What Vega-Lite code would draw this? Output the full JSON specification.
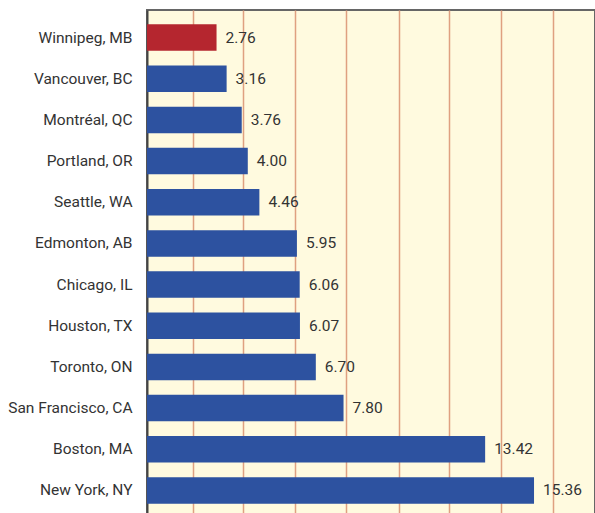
{
  "$schema": "https://vega.github.io/schema/vega-lite/v6.json",
  "width": 448,
  "height": 508,
  "autosize": "none",
  "padding": {"left": 147, "top": 10, "right": 0, "bottom": 0},
  "background": "white",
  "config": {
    "view": {"fill": "#fffadf", "stroke": "#666666", "strokeWidth": 2},
    "font": "Roboto"
  },
  "data": {
    "values": [
      {"city": "Winnipeg, MB", "value": 2.76, "highlight": "yes"},
      {"city": "Vancouver, BC", "value": 3.16, "highlight": "no"},
      {"city": "Montréal, QC", "value": 3.76, "highlight": "no"},
      {"city": "Portland, OR", "value": 4.00, "highlight": "no"},
      {"city": "Seattle, WA", "value": 4.46, "highlight": "no"},
      {"city": "Edmonton, AB", "value": 5.95, "highlight": "no"},
      {"city": "Chicago, IL", "value": 6.06, "highlight": "no"},
      {"city": "Houston, TX", "value": 6.07, "highlight": "no"},
      {"city": "Toronto, ON", "value": 6.70, "highlight": "no"},
      {"city": "San Francisco, CA", "value": 7.80, "highlight": "no"},
      {"city": "Boston, MA", "value": 13.42, "highlight": "no"},
      {"city": "New York, NY", "value": 15.36, "highlight": "no"}
    ]
  },
  "encoding": {
    "y": {
      "field": "city", "type": "nominal", "sort": null,
      "scale": {"paddingInner": 0.356, "paddingOuter": 0.348},
      "axis": {
        "title": null, "ticks": false, "domain": true, "domainColor": "#444444", "domainWidth": 2,
        "labelFont": "Roboto", "labelFontSize": 15.5, "labelColor": "#333333",
        "labelPadding": 15
      }
    },
    "x": {
      "field": "value", "type": "quantitative",
      "scale": {"domain": [0, 17.78], "nice": false},
      "axis": {
        "title": null, "labels": false, "ticks": false, "domain": false,
        "grid": true, "gridColor": "#dfa080", "gridWidth": 1.5,
        "values": [1.81, 3.82, 5.88, 7.9, 9.99, 11.97, 14.04, 16.12]
      }
    }
  },
  "layer": [
    {
      "mark": {"type": "bar"},
      "encoding": {
        "color": {
          "field": "highlight", "type": "nominal",
          "scale": {"domain": ["yes", "no"], "range": ["#b5262f", "#2d52a0"]},
          "legend": null
        }
      }
    },
    {
      "mark": {"type": "text", "align": "left", "baseline": "middle", "dx": 9, "fontSize": 15.5, "font": "Roboto", "color": "#333333"},
      "encoding": {
        "text": {"field": "value", "type": "quantitative", "format": ".2f"}
      }
    }
  ]
}
